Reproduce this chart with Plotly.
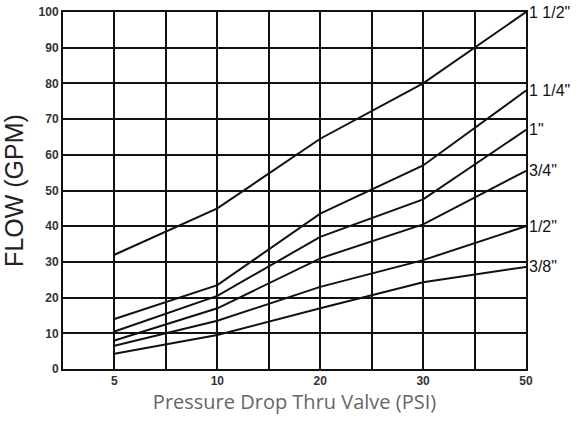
import plotly.graph_objects as go

psi_labels = ["5", "10", "20", "30", "50"]
psi_pos = [1, 3, 5, 7, 9]

sizes = ['1 1/2"', '1 1/4"', '1"', '3/4"', '1/2"', '3/8"']
flow_1_1_2 = [32, 45, 64.5, 80, 100]
flow_1_1_4 = [14, 23.5, 43.5, 57, 78]
flow_1 = [10.5, 20.5, 37, 47.5, 67]
flow_3_4 = [8, 17, 31, 40.5, 55.5]
flow_1_2 = [6.5, 13.5, 23, 30.5, 40]
flow_3_8 = [4.3, 9.5, 17, 24.3, 28.6]
series = [flow_1_1_2, flow_1_1_4, flow_1, flow_3_4, flow_1_2, flow_3_8]

y_ticks = list(range(0, 101, 10))

fig = go.Figure()
for name, vals in zip(sizes, series):
    fig.add_trace(go.Scatter(x=psi_pos, y=vals, mode="lines", name=name,
                             line=dict(color="#111111", width=2), showlegend=False,
                             hoverinfo="skip"))
    fig.add_annotation(x=psi_pos[-1], y=vals[-1], text=name, showarrow=False,
                       xanchor="left", yanchor="middle", xshift=1,
                       font=dict(family="Liberation Sans, Arial", size=16, color="#111111"))

grid_vals = list(range(0, 10))
grid_text = [""] * 10
for p, l in zip(psi_pos, psi_labels):
    grid_text[p] = l

fig.update_layout(
    width=583, height=424,
    margin=dict(l=63, r=57, t=12, b=55, autoexpand=False),
    paper_bgcolor="white", plot_bgcolor="white",
    xaxis=dict(range=[0, 9], tickvals=grid_vals, ticktext=grid_text,
               showgrid=True, gridcolor="#111111", gridwidth=2,
               showline=True, linecolor="#111111", linewidth=2, mirror=True,
               zeroline=False, ticks="", automargin=False,
               tickfont=dict(family="Liberation Sans, Arial", size=12, color="#333333", weight="bold"),
               title=dict(text="Pressure Drop Thru Valve (PSI)", standoff=6,
                          font=dict(family="Open Sans", size=20, color="#666666"))),
    yaxis=dict(range=[0, 100], tickvals=y_ticks,
               showgrid=True, gridcolor="#111111", gridwidth=2,
               showline=True, linecolor="#111111", linewidth=2, mirror=True,
               zeroline=False, ticks="", automargin=False,
               tickfont=dict(family="Liberation Sans, Arial", size=12, color="#333333", weight="bold"),
               title=dict(text="FLOW (GPM)", standoff=10,
                          font=dict(family="Liberation Sans, Arial", size=25, color="#222222"))),
)

fig.write_html("out.html", post_script="document.body.style.margin='0';",
               config={"displayModeBar": False, "staticPlot": True})
